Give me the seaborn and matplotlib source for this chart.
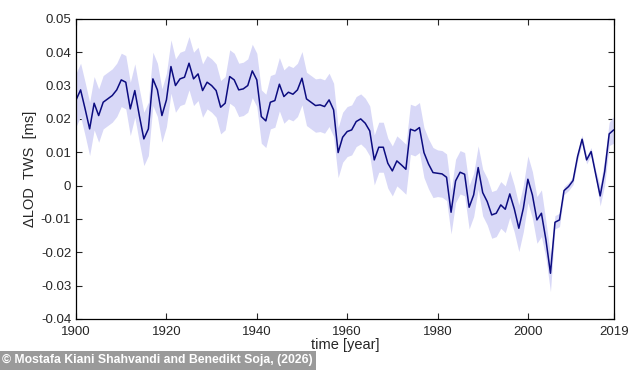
import numpy as np
import pandas as pd
import matplotlib
matplotlib.use("Agg")
import matplotlib.pyplot as plt
import seaborn as sns

# 数据：每年 ΔLOD (ms)
years = list(range(1900, 2020))
lod = [
    0.0257, 0.0287, 0.0230, 0.0170, 0.0247, 0.0210, 0.0250, 0.0260, 0.0270, 0.0287,
    0.0317, 0.0310, 0.0230, 0.0285, 0.0210, 0.0140, 0.0170, 0.0320, 0.0287, 0.0210,
    0.0257, 0.0357, 0.0300, 0.0320, 0.0325, 0.0367, 0.0320, 0.0335, 0.0285, 0.0310,
    0.0300, 0.0285, 0.0235, 0.0247, 0.0327, 0.0317, 0.0287, 0.0290, 0.0300, 0.0344,
    0.0317, 0.0207, 0.0194, 0.0250, 0.0255, 0.0304, 0.0267, 0.0280, 0.0274, 0.0287,
    0.0322, 0.0260, 0.0250, 0.0240, 0.0242, 0.0237, 0.0257, 0.0227, 0.0099, 0.0145,
    0.0162, 0.0167, 0.0192, 0.0200, 0.0187, 0.0164, 0.0077, 0.0115, 0.0115, 0.0067,
    0.0044, 0.0074, 0.0062, 0.0049, 0.0169, 0.0164, 0.0174, 0.0099, 0.0065, 0.0039,
    0.0037, 0.0035, 0.0025, -0.0080, 0.0014, 0.0040, 0.0034, -0.0065, -0.0028, 0.0054,
    -0.0021, -0.0048, -0.0088, -0.0083, -0.0058, -0.0071, -0.0025, -0.0070, -0.0128, -0.0068,
    0.0019, -0.0028, -0.0103, -0.0083, -0.0163, -0.0263, -0.0110, -0.0103, -0.0015, -0.0003,
    0.0015, 0.0087, 0.0139, 0.0077, 0.0102, 0.0035, -0.0031, 0.0042, 0.0155, 0.0167,
]
# 不确定度（半宽），按年份段
sigma = (
    [0.0080] * 58                      # 1900-1957
    + [0.0075] * 22                    # 1958-1979
    + [0.0070] * 3 + [0.0065] * 7      # 1980-1989
    + [0.0070] * 14                    # 1990-2003
    + [0.0055] * 2                     # 2004-2005
    + [0.0020] * 2 + [0.0012] * 8      # 2006-2015
    + [0.0030, 0.0040, 0.0035, 0.0040] # 2016-2019
)

xticks = [1900, 1920, 1940, 1960, 1980, 2000, 2019]
yticks = [0.05, 0.04, 0.03, 0.02, 0.01, 0, -0.01, -0.02, -0.03, -0.04]
ytick_labels = ["0.05", "0.04", "0.03", "0.02", "0.01", "0",
                "-0.01", "-0.02", "-0.03", "-0.04"]

df = pd.DataFrame({"year": years, "lod": lod, "sigma": sigma})
df["lo"] = df["lod"] - df["sigma"]
df["hi"] = df["lod"] + df["sigma"]

sns.set_style("ticks")
plt.rcParams["font.family"] = ["Liberation Sans", "DejaVu Sans"]
plt.rcParams["font.size"] = 9.5

fig = plt.figure(figsize=(6.34, 3.70), dpi=100)
ax = fig.add_axes([0.12, 0.138, 0.848, 0.811])

ax.fill_between(df["year"], df["lo"], df["hi"], color="#d8d8f7", linewidth=0)
sns.lineplot(data=df, x="year", y="lod", color="#0c0c80", linewidth=1.1, ax=ax)

ax.set_xlim(1900, 2019)
ax.set_ylim(-0.04, 0.05)
ax.set_xticks(xticks)
ax.set_xticklabels([str(t) for t in xticks])
ax.set_yticks(yticks)
ax.set_yticklabels(ytick_labels)
ax.tick_params(direction="in", top=True, right=True, length=4, width=0.8,
               labelsize=9.5, pad=3.5)
ax.tick_params(axis="x", pad=5)
for s in ax.spines.values():
    s.set_visible(True)
    s.set_linewidth(0.9)
    s.set_color("black")

ax.set_xlabel("time [year]", fontsize=10.5, labelpad=0)
ax.set_ylabel("ΔLOD  TWS  [ms]", fontsize=10.5, labelpad=3)

fig.text(0.003, 0.018, "© Mostafa Kiani Shahvandi and Benedikt Soja, (2026)",
         color="white", fontsize=8.8, fontweight="bold",
         bbox=dict(facecolor="#9a9a9a", edgecolor="none", pad=2.5))

plt.savefig("out.png", dpi=100)
